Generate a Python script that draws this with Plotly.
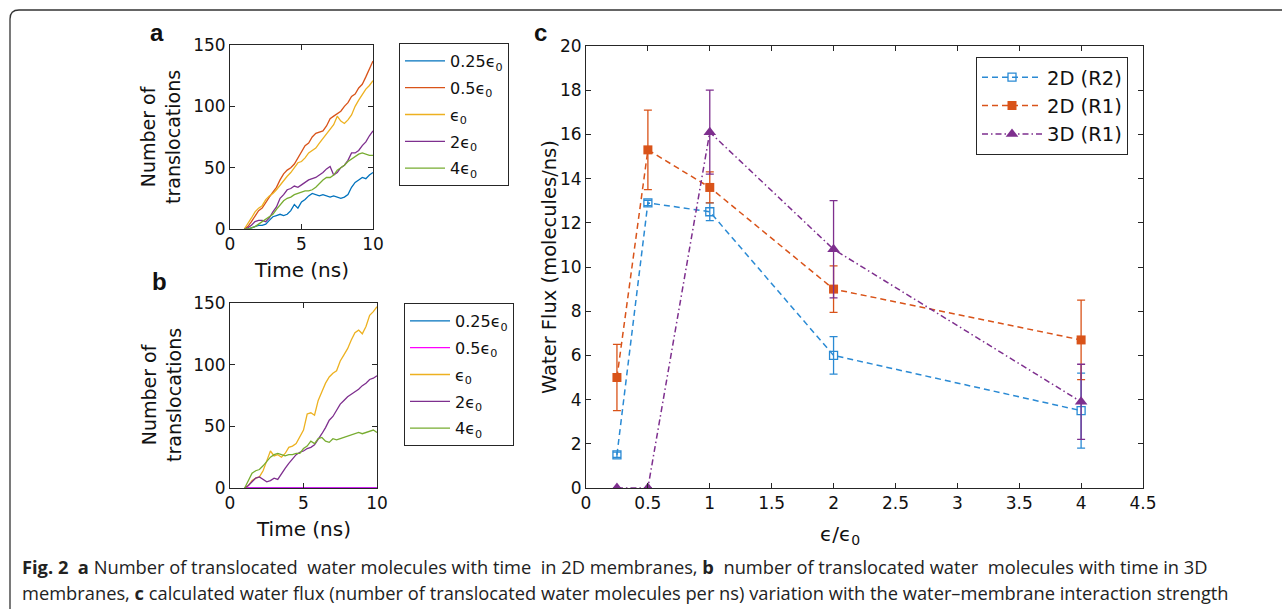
import plotly.graph_objects as go

W, H = 1282, 611

# ---------------- data ----------------
t = [1.0, 1.25, 1.5, 1.75, 2.0, 2.25, 2.5, 2.75, 3.0, 3.25, 3.5, 3.75, 4.0, 4.25, 4.5, 4.75,
     5.0, 5.25, 5.5, 5.75, 6.0, 6.25, 6.5, 6.75, 7.0, 7.25, 7.5, 7.75, 8.0, 8.25, 8.5, 8.75,
     9.0, 9.25, 9.5, 9.75, 10.0]
t_flat = [1.0, 10.0]

a_025 = [0, 0, 1, 2, 3, 3, 4, 7, 10, 11, 12, 11, 12, 15, 20, 17, 22, 24, 27, 29, 28, 27, 28, 27, 26,
         27, 26, 25, 26, 28, 34, 38, 40, 42, 41, 44, 46]
a_05 = [0, 2, 6, 10, 15, 17, 22, 26, 30, 34, 40, 45, 48, 50, 53, 58, 64, 68, 70, 75, 78, 79, 80, 84, 90,
        92, 94, 96, 100, 103, 108, 110, 115, 118, 124, 130, 137]
a_1 = [0, 4, 9, 14, 17, 19, 24, 27, 29, 32, 36, 40, 43, 46, 50, 54, 55, 58, 62, 64, 66, 70, 74, 78, 81,
       85, 92, 88, 86, 89, 93, 100, 105, 110, 114, 117, 121]
a_2 = [0, 1, 3, 6, 7, 7, 6, 9, 14, 18, 25, 28, 32, 33, 35, 34, 36, 38, 40, 41, 42, 44, 46, 49, 51,
       44, 46, 50, 52, 56, 62, 62, 64, 68, 71, 76, 80]
a_4 = [0, 0, 1, 2, 4, 6, 8, 10, 12, 16, 20, 23, 25, 26, 28, 29, 30, 31, 31, 32, 34, 37, 40, 42, 42,
       44, 48, 50, 52, 55, 57, 59, 61, 62, 61, 60, 60]

b_025 = [0, 0]
b_05 = [0, 0]
b_1 = [0, 2, 6, 8, 9, 14, 22, 30, 26, 27, 25, 28, 33, 34, 36, 41, 47, 60, 61, 59, 71, 78, 85, 90, 93,
       95, 103, 108, 113, 120, 126, 128, 125, 131, 140, 143, 147]
b_2 = [0, 2, 5, 8, 9, 7, 5, 6, 8, 7, 12, 16, 20, 24, 27, 29, 30, 32, 33, 35, 39, 44, 49, 55, 58,
       63, 68, 71, 74, 76, 78, 80, 83, 85, 88, 89, 91]
b_4 = [0, 6, 12, 14, 15, 18, 22, 25, 27, 28, 27, 26, 27, 27, 28, 28, 32, 34, 38, 36, 40, 41, 38, 37, 40,
       39, 40, 41, 42, 43, 44, 45, 44, 45, 46, 47, 45]

eps = [0.25, 0.5, 1, 2, 4]
flux_2d_r2 = [1.5, 12.9, 12.5, 6.0, 3.5]
err_2d_r2 = [0.12, 0.12, 0.4, 0.85, 1.7]
flux_2d_r1 = [5.0, 15.3, 13.6, 9.0, 6.7]
err_2d_r1 = [1.5, 1.8, 0.7, 1.05, 1.8]
flux_3d_r1 = [0.0, 0.0, 16.1, 10.8, 3.9]
err_3d_r1 = [0.0, 0.0, 1.9, 2.2, 1.7]

legend_ab = ["0.25ϵ<sub>0</sub>", "0.5ϵ<sub>0</sub>", "ϵ<sub>0</sub>", "2ϵ<sub>0</sub>", "4ϵ<sub>0</sub>"]
legend_c = ["2D (R2)", "2D (R1)", "3D (R1)"]

caption_1_words = ["<b>Fig.", "2</b>", "<b>a</b>", "Number", "of", "translocated", "water", "molecules", "with",
                   "time", "in", "2D", "membranes,", "<b>b</b>", "number", "of", "translocated", "water",
                   "molecules", "with", "time", "in", "3D"]
caption_2 = ("membranes, <b>c</b> calculated water flux (number of translocated water molecules per ns) "
             "variation with the water–membrane interaction strength")

# ---------------- styles ----------------
BLUE, ORANGE, YELLOW, PURPLE, GREEN, MAGENTA = "#0072BD", "#D95319", "#EDB120", "#7E2F8E", "#77AC30", "#FF00FF"
CBLUE = "#2a8ad4"
AX = "#262626"
FONT = "DejaVu Sans"


def fx(px):
    return px / W


def fy(py):
    return 1 - py / H


fig = go.Figure()

# panel a
for y, c, name in zip([a_025, a_05, a_1, a_2, a_4], [BLUE, ORANGE, YELLOW, PURPLE, GREEN], legend_ab):
    fig.add_trace(go.Scatter(x=t, y=y, mode="lines", line=dict(color=c, width=1.3), name=name,
                             xaxis="x", yaxis="y", legend="legend", legendgroup="a" + name))
# panel b
for xx, y, c, name in zip([t_flat, t_flat, t, t, t], [b_025, b_05, b_1, b_2, b_4],
                          [BLUE, MAGENTA, YELLOW, PURPLE, GREEN], legend_ab):
    fig.add_trace(go.Scatter(x=xx, y=y, mode="lines", line=dict(color=c, width=1.3), name=name,
                             xaxis="x2", yaxis="y2", legend="legend2", legendgroup="b" + name))
# panel c
fig.add_trace(go.Scatter(x=eps, y=flux_2d_r2, name=legend_c[0], mode="lines+markers",
                         line=dict(color=CBLUE, width=1.5, dash="6px,4px"),
                         marker=dict(symbol="square-open", size=8, color=CBLUE, line=dict(width=1.3)),
                         error_y=dict(type="data", array=err_2d_r2, color=CBLUE, thickness=1.3, width=4),
                         xaxis="x3", yaxis="y3", legend="legend3", legendgroup="c1"))
fig.add_trace(go.Scatter(x=eps, y=flux_2d_r1, name=legend_c[1], mode="lines+markers",
                         line=dict(color=ORANGE, width=1.5, dash="6px,4px"),
                         marker=dict(symbol="square", size=9, color=ORANGE),
                         error_y=dict(type="data", array=err_2d_r1, color=ORANGE, thickness=1.3, width=4),
                         xaxis="x3", yaxis="y3", legend="legend3", legendgroup="c2"))
fig.add_trace(go.Scatter(x=eps, y=flux_3d_r1, name=legend_c[2], mode="lines+markers",
                         line=dict(color=PURPLE, width=1.5, dash="6px,3px,1.5px,3px"),
                         marker=dict(symbol="triangle-up", size=11, color=PURPLE),
                         error_y=dict(type="data", array=err_3d_r1, color=PURPLE, thickness=1.3, width=4),
                         xaxis="x3", yaxis="y3", legend="legend3", legendgroup="c3"))

axis_common = dict(showline=True, linecolor=AX, linewidth=1, mirror="allticks", ticks="inside",
                   ticklen=5, tickcolor=AX, showgrid=False, zeroline=False, automargin=False,
                   tickfont=dict(family=FONT, size=17, color="#111"))

legend_common = dict(xanchor="left", yanchor="top", bgcolor="white", bordercolor=AX, borderwidth=1)

fig.update_layout(
    width=W, height=H, margin=dict(l=0, r=0, t=0, b=0, pad=0, autoexpand=False),
    paper_bgcolor="white", plot_bgcolor="white", showlegend=True,
    xaxis=dict(domain=[fx(230), fx(373)], range=[0, 10], tickvals=[0, 5, 10], anchor="y", **axis_common),
    yaxis=dict(domain=[fy(229), fy(45)], range=[0, 150], tickvals=[0, 50, 100, 150], anchor="x", **axis_common),
    xaxis2=dict(domain=[fx(230), fx(377)], range=[0, 10], tickvals=[0, 5, 10], anchor="y2", **axis_common),
    yaxis2=dict(domain=[fy(488), fy(303)], range=[0, 150], tickvals=[0, 50, 100, 150], anchor="x2", **axis_common),
    xaxis3=dict(domain=[fx(586), fx(1143)], range=[0, 4.5], tickvals=[0, 0.5, 1, 1.5, 2, 2.5, 3, 3.5, 4, 4.5],
                ticktext=["0", "0.5", "1", "1.5", "2", "2.5", "3", "3.5", "4", "4.5"], anchor="y3", **axis_common),
    yaxis3=dict(domain=[fy(488), fy(46)], range=[0, 20], tickvals=list(range(0, 21, 2)), anchor="x3", **axis_common),
    legend=dict(x=fx(399), y=fy(43), font=dict(family=FONT, size=16, color="#111"), tracegroupgap=3,
                itemwidth=40, **legend_common),
    legend2=dict(x=fx(404), y=fy(303), font=dict(family=FONT, size=16, color="#111"), tracegroupgap=3,
                 itemwidth=40, **legend_common),
    legend3=dict(x=fx(976), y=fy(57), font=dict(family=FONT, size=19.5, color="#111"), tracegroupgap=0,
                 itemwidth=60, **legend_common),
)

ann = []


def add_text(px, py, text, size, xanchor="center", yanchor="middle", angle=0, family=FONT, color="#111"):
    ann.append(dict(x=fx(px), y=fy(py), xref="paper", yref="paper", text=text, showarrow=False,
                    xanchor=xanchor, yanchor=yanchor, textangle=angle,
                    font=dict(family=family, size=size, color=color)))


add_text(157, 33, "<b>a</b>", 24, family="Liberation Sans")
add_text(159, 281, "<b>b</b>", 24, family="Liberation Sans")
add_text(540, 33, "<b>c</b>", 24, family="Liberation Sans")
add_text(161, 137, "Number of<br>translocations", 19, angle=-90)
add_text(161, 395, "Number of<br>translocations", 19, angle=-90)
add_text(301, 270, "Time (ns)", 20)
add_text(303, 529, "Time (ns)", 20)
add_text(549, 267, "Water Flux (molecules/ns)", 19.5, angle=-90)
add_text(840, 535, "ϵ/ϵ<sub>0</sub>", 20)

# justified first caption line: widen a few word gaps slightly
wide_gaps = {1, 5, 9, 13, 17}
line1 = caption_1_words[0]
for i, w in enumerate(caption_1_words[1:]):
    gap = "\u00a0 " if i in wide_gaps else " "
    line1 += gap + w
add_text(20, 566, line1, 18.3, xanchor="left", family="Open Sans", color="#222")
add_text(20, 592, caption_2, 18.3, xanchor="left", family="Open Sans", color="#222")
fig.update_layout(annotations=ann)

# rounded figure frame
r = 9
path = (f"M {fx(W + 5)},{fy(10)} L {fx(10 + r)},{fy(10)} "
        f"Q {fx(10)},{fy(10)} {fx(10)},{fy(10 + r)} L {fx(10)},{fy(H - 2)}")
fig.update_layout(shapes=[dict(type="path", xref="paper", yref="paper", path=path,
                               line=dict(color="#333", width=1.3))])

fig.write_html("out.html", config={"displayModeBar": False},
               post_script="document.body.style.margin='0';document.body.style.overflow='hidden';")
